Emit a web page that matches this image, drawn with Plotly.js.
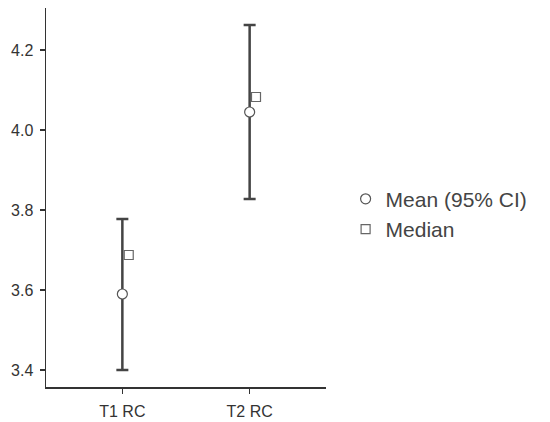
<!DOCTYPE html>
<html>
<head>
<meta charset="utf-8">
<script src="https://cdn.plot.ly/plotly-3.0.1.min.js"></script>
<style>
  html, body { margin: 0; padding: 0; background: #fff; }
  #chart { width: 550px; height: 422px; }
</style>
</head>
<body>
<div id="chart"></div>
<script>
let groups = ['T1 RC', 'T2 RC'];
let means = [3.59, 4.045];
let ciLow = [3.40, 3.8275];
let ciHigh = [3.7775, 4.2625];
let medians = [3.6875, 4.0825];

// medians sit just to the right of the mean markers
let medianShift = 0.05;

let xPos = groups.map(function(g, i) { return i; });
let xMed = xPos.map(function(x) { return x + medianShift; });

let errPlus = means.map(function(m, i) { return ciHigh[i] - m; });
let errMinus = means.map(function(m, i) { return m - ciLow[i]; });

let meanTrace = {
    x: xPos,
    y: means,
    type: 'scatter',
    mode: 'markers',
    name: 'Mean (95% CI)',
    marker: {
        symbol: 'circle',
        size: 10,
        color: '#ffffff',
        line: { color: '#555555', width: 1.2 }
    },
    error_y: {
        type: 'data',
        symmetric: false,
        array: errPlus,
        arrayminus: errMinus,
        color: '#444444',
        thickness: 2.5,
        width: 6
    }
};

let medianTrace = {
    x: xMed,
    y: medians,
    type: 'scatter',
    mode: 'markers',
    name: 'Median',
    marker: {
        symbol: 'square',
        size: 9,
        color: '#ffffff',
        line: { color: '#666666', width: 1.2 }
    }
};

let layout = {
    width: 550,
    height: 422,
    margin: { l: 46, r: 224, t: 8, b: 35 },
    paper_bgcolor: '#ffffff',
    plot_bgcolor: '#ffffff',
    font: { family: 'Liberation Sans, Arial, sans-serif', color: '#333333', size: 16 },
    showlegend: true,
    legend: {
        x: 1.07,
        xanchor: 'left',
        y: 0.456,
        yanchor: 'middle',
        font: { size: 21, color: '#444444' },
        tracegroupgap: 0,
        itemwidth: 30
    },
    xaxis: {
        range: [-0.6, 1.6],
        tickmode: 'array',
        tickvals: xPos,
        ticktext: groups,
        showgrid: false,
        zeroline: false,
        showline: true,
        linecolor: '#333333',
        linewidth: 1.5,
        ticks: 'outside',
        ticklen: 5,
        tickwidth: 1.5,
        tickcolor: '#333333',
        ticklabelstandoff: 4,
        tickfont: { size: 16 }
    },
    yaxis: {
        range: [3.3575, 4.305],
        tickvals: [3.4, 3.6, 3.8, 4.0, 4.2],
        ticktext: ['3.4', '3.6', '3.8', '4.0', '4.2'],
        showgrid: false,
        zeroline: false,
        showline: true,
        linecolor: '#333333',
        linewidth: 1.5,
        ticks: 'outside',
        ticklen: 5,
        tickwidth: 1.5,
        tickcolor: '#333333',
        ticklabelstandoff: 3,
        tickfont: { size: 16 }
    }
};

Plotly.newPlot('chart', [meanTrace, medianTrace], layout, { displayModeBar: false, staticPlot: true });
</script>
</body>
</html>
